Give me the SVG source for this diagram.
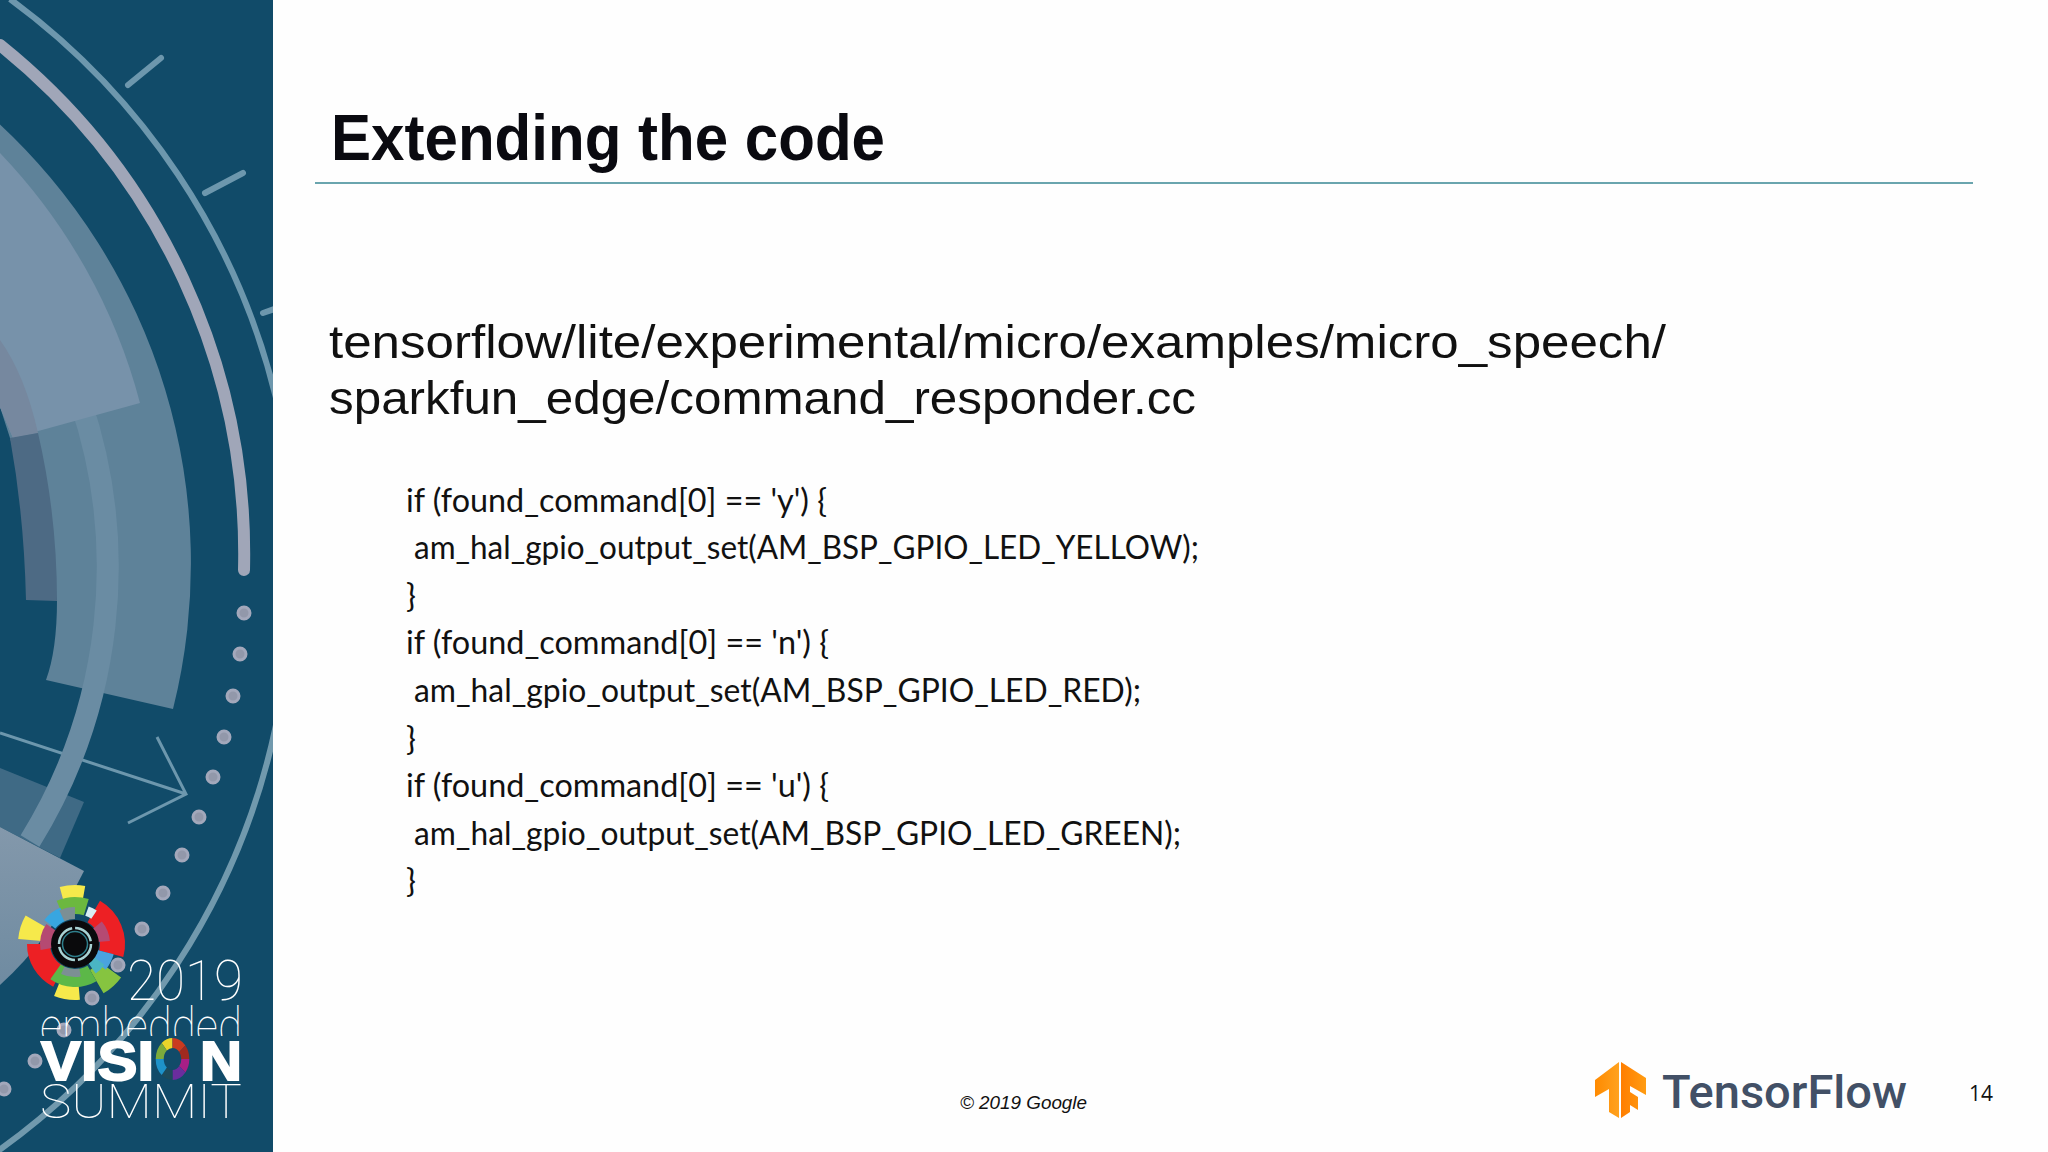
<svg xmlns="http://www.w3.org/2000/svg" width="2048" height="1152" viewBox="0 0 2048 1152">
<style>
.tick{fill:none;stroke:#6d97ad;stroke-width:6;stroke-linecap:round}
.thin{fill:none;stroke:#6d97ad;stroke-width:3}
.dot{fill:#9298aa;stroke:#a3a8bb;stroke-width:3}
.w{fill:none}
.lite{font-family:Roboto,"Liberation Sans",sans-serif;font-weight:100;fill:#fff}
.code{font-family:Lato,"Open Sans","Liberation Sans",sans-serif;font-size:33px;fill:#111}
.body{font-family:"Liberation Sans",Arial,sans-serif;font-size:47px;fill:#111}
.seg{fill:none;stroke-width:10}
</style>
<defs>
<clipPath id="panel"><rect width="273" height="1152"/></clipPath>
<clipPath id="emb"><rect x="0" y="990" width="273" height="46"/></clipPath>
<linearGradient id="tfl" x1="0" y1="0" x2="1" y2="0"><stop offset="0" stop-color="#ff8a00"/><stop offset="1" stop-color="#ffa21f"/></linearGradient>
<linearGradient id="tfr" x1="0" y1="0" x2="1" y2="0"><stop offset="0" stop-color="#ff7e00"/><stop offset="1" stop-color="#ff9c12"/></linearGradient>
<linearGradient id="grey" x1="0" y1="0" x2="0" y2="1"><stop offset="0" stop-color="#8398ab"/><stop offset="1" stop-color="#6f8ba1"/></linearGradient>
</defs>
<rect width="2048" height="1152" fill="#fefefe"/>
<g id="panel-art" clip-path="url(#panel)">
<rect width="273" height="1152" fill="#114b69"/>
<path d="M-6,119 A600,600 0 0 1 173,709 L46,680 Q57,650 57,600 L10,438 L0,407 Z" fill="#5e8299"/>
<path d="M0,733 L186,794 M157,737 L186,794 L128,823" class="thin"/>
<path d="M0,768 L84,802 L60,858 L0,827 Z" fill="#3f6a85"/>
<path d="M80,400 A520,520 0 0 1 30,841" fill="none" stroke="#6a8ca3" stroke-width="22"/>
<path d="M0,153 A572,572 0 0 1 140,403 L13,438 L0,407 Z" fill="#7792aa"/>
<path d="M0,340 Q25,375 38,433 L13,438 L0,407 Z" fill="#76889f"/>
<path d="M10,438 L38,433 Q57,515 57,601 L26,600 Q24,515 10,438 Z" fill="#4d6a84"/>
<path d="M0,827 L84,871 Q50,940 0,985 Z" fill="url(#grey)"/>
<path d="M10,-1 A699,699 0 0 1 276,398" fill="none" stroke="#6d97ad" stroke-width="6"/>
<path d="M276,725 A700,700 0 0 1 -2,1151" fill="none" stroke="#7199ad" stroke-width="6"/>
<path d="M0,45 A653,653 0 0 1 244,570" fill="none" stroke="#a0a6b8" stroke-width="12" stroke-linecap="round"/>
<path d="M128,85 L161,58 M205,193 L243,173 M263,313 L280,307" class="tick"/>
<g id="dots">
<circle class="dot" cx="244" cy="613" r="6"/><circle class="dot" cx="240" cy="654" r="6"/><circle class="dot" cx="233" cy="696" r="6"/><circle class="dot" cx="224" cy="737" r="6"/><circle class="dot" cx="213" cy="777" r="6"/><circle class="dot" cx="199" cy="817" r="6"/><circle class="dot" cx="182" cy="855" r="6"/><circle class="dot" cx="163" cy="893" r="6"/><circle class="dot" cx="142" cy="929" r="6"/><circle class="dot" cx="118" cy="965" r="6"/><circle class="dot" cx="92" cy="998" r="6"/><circle class="dot" cx="64" cy="1030" r="6"/><circle class="dot" cx="35" cy="1061" r="6"/><circle class="dot" cx="4" cy="1089" r="6"/>
</g>
<g id="burst" transform="translate(75,944)">
<circle class="w" r="37.5" stroke="#ed2024" stroke-width="25" pathLength="360" stroke-dasharray="75 360" transform="rotate(-60)"/>
<circle class="w" r="36.5" stroke="#ed2024" stroke-width="23" pathLength="360" stroke-dasharray="63 360" transform="rotate(117)"/>
<circle class="w" r="52.5" stroke="#f6e94b" stroke-width="13" pathLength="360" stroke-dasharray="25 360" transform="rotate(-105)"/>
<circle class="w" r="38.5" stroke="#6cb83f" stroke-width="17" pathLength="360" stroke-dasharray="40 360" transform="rotate(-113)"/>
<circle class="w" r="35" stroke="#d8eef5" stroke-width="10" pathLength="360" stroke-dasharray="13 360" transform="rotate(-70)"/>
<circle class="w" r="45" stroke="#f6e94b" stroke-width="24" pathLength="360" stroke-dasharray="25 360" transform="rotate(185)"/>
<circle class="w" r="32" stroke="#38a6e0" stroke-width="14" pathLength="360" stroke-dasharray="30 360" transform="rotate(218)"/>
<circle class="w" r="31" stroke="#7c8f94" stroke-width="12" pathLength="360" stroke-dasharray="25 360" transform="rotate(-115)"/>
<circle class="w" r="28.5" stroke="#b54a72" stroke-width="13" pathLength="360" stroke-dasharray="35 360" transform="rotate(-40)"/>
<circle class="w" r="43.5" stroke="#86c440" stroke-width="27" pathLength="360" stroke-dasharray="24 360" transform="rotate(36)"/>
<circle class="w" r="31" stroke="#4aa3df" stroke-width="18" pathLength="360" stroke-dasharray="25 360" transform="rotate(15)"/>
<circle class="w" r="29" stroke="#4ab5c4" stroke-width="14" pathLength="360" stroke-dasharray="20 360" transform="rotate(35)"/>
<circle class="w" r="49" stroke="#f6e94b" stroke-width="14" pathLength="360" stroke-dasharray="27 360" transform="rotate(85)"/>
<circle class="w" r="34" stroke="#5cb848" stroke-width="18" pathLength="360" stroke-dasharray="65 360" transform="rotate(60)"/>
<circle class="w" r="29" stroke="#7c8f94" stroke-width="8" pathLength="360" stroke-dasharray="35 360" transform="rotate(80)"/>
<circle class="w" r="28.5" stroke="#b54a72" stroke-width="13" pathLength="360" stroke-dasharray="45 360" transform="rotate(170)"/>
<circle r="24" fill="#0a0a0c"/>
<circle class="w" r="16" stroke="#a9d3d4" stroke-width="2.5" stroke-dasharray="22 3"/>
<circle class="w" r="12.5" stroke="#2f7f8c" stroke-width="1.5"/>
</g>
<g id="summit-logo">
<text class="lite" x="127" y="1000" font-size="55" textLength="116" lengthAdjust="spacingAndGlyphs">2019</text>
<g clip-path="url(#emb)"><text class="lite" x="40" y="1044" font-size="52" textLength="202" lengthAdjust="spacingAndGlyphs">embedded</text></g>
<text y="1080" font-family="Liberation Sans,Arial,sans-serif" font-weight="700" font-size="56" fill="#fff" stroke="#fff" stroke-width="2"><tspan x="41" textLength="113" lengthAdjust="spacingAndGlyphs">VISI</tspan><tspan x="157" fill="none" stroke="none" textLength="31" lengthAdjust="spacingAndGlyphs">O</tspan><tspan x="200" textLength="42" lengthAdjust="spacingAndGlyphs">N</tspan></text>
<g transform="translate(172.5,1059) scale(.8,1)">
<circle class="seg" r="16" stroke="#e9d42a" pathLength="360" stroke-dasharray="40 360" transform="rotate(-130)"/>
<circle class="seg" r="16" stroke="#c93a1f" pathLength="360" stroke-dasharray="50 360" transform="rotate(-90)"/>
<circle class="seg" r="16" stroke="#a02a1f" pathLength="360" stroke-dasharray="40 360" transform="rotate(-40)"/>
<circle class="seg" r="16" stroke="#a81f86" pathLength="360" stroke-dasharray="40 360"/>
<circle class="seg" r="16" stroke="#6a2d9e" pathLength="360" stroke-dasharray="50 360" transform="rotate(40)"/>
<circle class="seg" r="16" stroke="#1d4a5a" pathLength="360" stroke-dasharray="40 360" transform="rotate(90)"/>
<circle class="seg" r="16" stroke="#1e92c9" pathLength="360" stroke-dasharray="50 360" transform="rotate(130)"/>
<circle class="seg" r="16" stroke="#7cab3c" pathLength="360" stroke-dasharray="50 360" transform="rotate(180)"/>
</g>
<text class="lite" x="40" y="1118" font-size="48" textLength="202" lengthAdjust="spacingAndGlyphs">SUMMIT</text>
</g>
</g>
<g id="slide">
<text x="331" y="160" font-family="Liberation Sans,Arial,sans-serif" font-weight="700" font-size="65" fill="#0a0a10" textLength="554" lengthAdjust="spacingAndGlyphs">Extending the code</text>
<line x1="315" y1="183" x2="1973" y2="183" stroke="#6aa5ae" stroke-width="2"/>
<text class="body" x="329" y="358" textLength="1337" lengthAdjust="spacingAndGlyphs">tensorflow/lite/experimental/micro/examples/micro_speech/</text>
<text class="body" x="329" y="414" textLength="867" lengthAdjust="spacingAndGlyphs">sparkfun_edge/command_responder.cc</text>
<g id="code">
<text class="code" x="406" y="512" textLength="421" lengthAdjust="spacingAndGlyphs">if (found_command[0] == 'y') {</text>
<text class="code" x="414" y="559" textLength="785" lengthAdjust="spacingAndGlyphs">am_hal_gpio_output_set(AM_BSP_GPIO_LED_YELLOW);</text>
<text class="code" x="406" y="607">}</text>
<text class="code" x="406" y="654" textLength="423" lengthAdjust="spacingAndGlyphs">if (found_command[0] == 'n') {</text>
<text class="code" x="414" y="702" textLength="727" lengthAdjust="spacingAndGlyphs">am_hal_gpio_output_set(AM_BSP_GPIO_LED_RED);</text>
<text class="code" x="406" y="750">}</text>
<text class="code" x="406" y="797" textLength="423" lengthAdjust="spacingAndGlyphs">if (found_command[0] == 'u') {</text>
<text class="code" x="414" y="845" textLength="767" lengthAdjust="spacingAndGlyphs">am_hal_gpio_output_set(AM_BSP_GPIO_LED_GREEN);</text>
<text class="code" x="406" y="892">}</text>
</g>
<text x="960" y="1109" font-family="Liberation Sans,Arial,sans-serif" font-style="italic" font-size="18" fill="#111" textLength="127" lengthAdjust="spacingAndGlyphs">© 2019 Google</text>
<g id="tensorflow-logo">
<path d="M1619,1062 L1595,1080 L1595,1097 L1609,1089 L1609,1112 L1619,1118 Z" fill="url(#tfl)"/>
<path d="M1621,1062 L1646,1078 L1646,1095 L1630,1086 L1630,1092 L1638,1097 L1638,1110 L1630,1105 L1630,1112 L1621,1118 Z" fill="url(#tfr)"/>
<text x="1662" y="1108" font-family="Roboto,Liberation Sans,sans-serif" font-weight="500" font-size="47" fill="#425066" textLength="245" lengthAdjust="spacingAndGlyphs">TensorFlow</text>
</g>
<text x="1969" y="1101" font-family="Open Sans,Liberation Sans,sans-serif" font-size="21" fill="#111">14</text>
</g>
</svg>
